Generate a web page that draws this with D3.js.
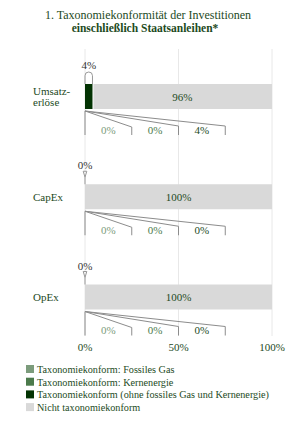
<!DOCTYPE html>
<html><head><meta charset="utf-8">
<script src="https://cdn.jsdelivr.net/npm/d3@7"></script>
<style>body{margin:0;background:#fff}svg{display:block}svg text{font-family:"Liberation Serif","Times New Roman",Times,"DejaVu Serif",serif}</style>
</head><body>
<script>
const categories = ["Umsatzerlöse", "CapEx", "OpEx"];
const categoryLines = [["Umsatz-", "erlöse"], ["CapEx"], ["OpEx"]];
const alignedTotal = [4, 0, 0];
const notAligned = [96, 100, 100];
const fossilGas = [0, 0, 0];
const nuclear = [0, 0, 0];
const otherAligned = [4, 0, 0];
const xTicks = [0, 50, 100];
const legendLabels = ["Taxonomiekonform: Fossiles Gas", "Taxonomiekonform: Kernenergie", "Taxonomiekonform (ohne fossiles Gas und Kernenergie)", "Nicht taxonomiekonform"];
const colors = ["#7c9c7c", "#4b7a4b", "#033303", "#d9d9d9"];
const textDark = "#1d4a1d";

const W = 300, H = 439;
const svg = d3.select("body").append("svg").attr("width", W).attr("height", H);

const x = d3.scaleLinear().domain([0, 100]).range([85, 272]);
const y = d3.scalePoint().domain(categories).range([96.5, 297]);
const barH = 25;

// title
svg.append("text").attr("x", 148).attr("y", 18.5).attr("text-anchor", "middle")
  .attr("font-size", 12).attr("fill", textDark).text("1. Taxonomiekonformität der Investitionen");
svg.append("text").attr("x", 145).attr("y", 31.5).attr("text-anchor", "middle")
  .attr("font-size", 11.5).attr("font-weight", "bold").attr("fill", textDark).text("einschließlich Staatsanleihen*");

// gridlines
svg.append("g").selectAll("line").data(xTicks).join("line")
  .attr("x1", d => x(d)).attr("x2", d => x(d)).attr("y1", 49).attr("y2", 336)
  .attr("stroke", "#e8e8e8").attr("stroke-width", 1);

// axis labels
svg.append("g").selectAll("text").data(xTicks).join("text")
  .attr("x", d => x(d)).attr("y", 351).attr("text-anchor", "middle")
  .attr("font-size", 11).attr("fill", textDark).text(d => d + "%");

categories.forEach((c, i) => {
  const cy = y(c);
  const top = cy - barH / 2, bot = cy + barH / 2;
  const lines = categoryLines[i];
  const t = svg.append("text").attr("x", 33).attr("font-size", 11).attr("fill", textDark);
  lines.forEach((l, j) => {
    t.append("tspan").attr("x", 33).attr("y", cy + 4 + (j - (lines.length - 1) / 2) * 10.5).text(l);
  });
  const a = alignedTotal[i];
  if (a > 0) {
    svg.append("rect").attr("x", x(0)).attr("y", top).attr("width", x(a) - x(0)).attr("height", barH)
      .attr("fill", colors[2]);
  }
  const gap = a > 0 ? 1 : 0;
  svg.append("rect").attr("x", x(a) + gap).attr("y", top).attr("width", x(a + notAligned[i]) - x(a) - gap)
    .attr("height", barH).attr("fill", colors[3]);
  svg.append("text").attr("x", (x(a) + x(100)) / 2).attr("y", cy + 4).attr("text-anchor", "middle")
    .attr("font-size", 11).attr("fill", textDark).text(notAligned[i] + "%");

  const x0 = x(0), x1 = x(a);
  if (a > 0) {
    const r = (x1 - x0) / 2;
    const yt = top - 12;
    svg.append("path").attr("d", `M${x0},${top}L${x0},${yt + r}A${r},${r} 0 0 1 ${x1},${yt + r}L${x1},${top}`)
      .attr("fill", "none").attr("stroke", "#999").attr("stroke-width", 1);
  } else {
    svg.append("path").attr("d", `M${x0 - 1.8},${top - 13}L${x0},${top - 7}L${x0 + 1.8},${top - 13}Z M${x0},${top - 7}L${x0},${top}`)
      .attr("fill", "none").attr("stroke", "#999").attr("stroke-width", 1);
  }
  svg.append("text").attr("x", (x0 + x1) / 2).attr("y", top - 15).attr("text-anchor", "middle")
    .attr("font-size", 11).attr("fill", "#333").text(a + "%");

  const oy = bot + 2, by0 = bot + 17, by1 = bot + 26;
  const parts = [fossilGas[i], nuclear[i], otherAligned[i]];
  const edges = [25, 50, 75];
  const g = svg.append("g").attr("fill", "none").attr("stroke", "#8c8c8c").attr("stroke-width", 1);
  g.append("path").attr("d", `M${x0},${oy}L${x0},${by1}`);
  edges.forEach((e, k) => {
    g.append("path").attr("d", `M${x0},${oy}L${x(e)},${by0 + (k === 0 ? 1 : 0)}L${x(e)},${by1}`);
  });
  parts.forEach((p, k) => {
    svg.append("text").attr("x", x(edges[k] - 12.5)).attr("y", by0 + 7.5).attr("text-anchor", "middle")
      .attr("font-size", 11).attr("fill", k === 2 ? textDark : colors[k]).text(p + "%");
  });
});

const lg = svg.append("g");
legendLabels.forEach((l, i) => {
  const ly = 369 + i * 12.7;
  lg.append("rect").attr("x", 26).attr("y", ly - 4).attr("width", 8).attr("height", 8).attr("fill", colors[i]);
  lg.append("text").attr("x", 37).attr("y", ly + 4).attr("font-size", 10.2).attr("fill", textDark).text(l);
});
</script>
</body></html>
